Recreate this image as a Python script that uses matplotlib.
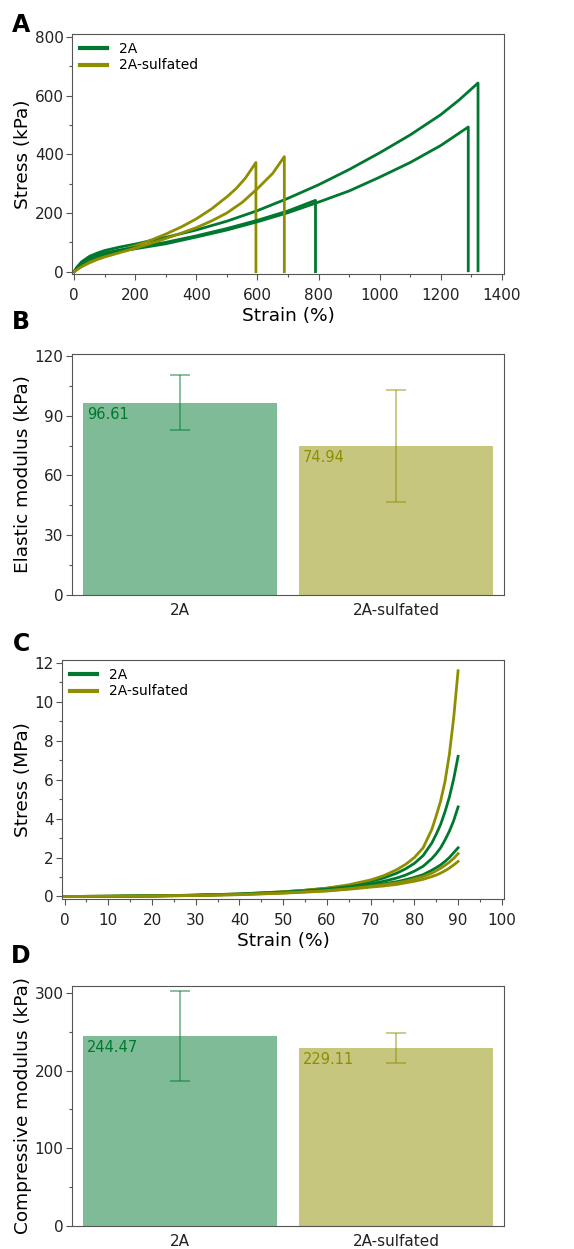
import matplotlib
matplotlib.use("Agg")
import matplotlib.pyplot as plt
from matplotlib.ticker import MultipleLocator

green = "#00782f"
olive = "#8e8e00"

# panel A: tensile stress-strain (kPa vs %)
a_2a_1_x = [0, 10, 25, 50, 75, 100, 150, 200, 300, 400, 500, 600, 700, 800, 900, 1000, 1100, 1200, 1260, 1322, 1322]
a_2a_1_y = [0, 16, 34, 52, 63, 72, 84, 94, 117, 142, 172, 208, 250, 296, 348, 405, 466, 535, 585, 643, 3]
a_2a_2_x = [0, 10, 25, 50, 75, 100, 150, 200, 300, 400, 500, 600, 700, 800, 900, 1000, 1100, 1200, 1290, 1290]
a_2a_2_y = [0, 13, 28, 42, 52, 60, 70, 78, 95, 118, 142, 170, 201, 237, 275, 322, 372, 430, 493, 3]
a_2a_3_x = [0, 10, 25, 50, 75, 100, 150, 200, 300, 400, 500, 600, 700, 790, 790]
a_2a_3_y = [0, 15, 31, 46, 56, 64, 74, 82, 100, 122, 147, 175, 207, 243, 0]
a_s_1_x = [0, 10, 25, 50, 75, 100, 150, 200, 250, 300, 350, 400, 450, 500, 530, 560, 595, 595]
a_s_1_y = [0, 8, 19, 33, 45, 55, 72, 88, 107, 128, 152, 180, 214, 255, 283, 318, 372, 0]
a_s_2_x = [0, 10, 25, 50, 75, 100, 150, 200, 250, 300, 350, 400, 450, 500, 550, 600, 650, 688, 688]
a_s_2_y = [0, 7, 17, 30, 41, 50, 65, 80, 96, 113, 131, 150, 173, 200, 236, 283, 335, 392, 0]

# panel B: elastic modulus
groups = ["2A", "2A-sulfated"]
elastic = [96.61, 74.94]
elastic_err = [13.7, 28.2]

# panel C: compression stress-strain (MPa vs %)
c_x = [0, 10, 20, 30, 40, 50, 55, 60, 65, 70, 73, 76, 78, 80, 82, 84, 85, 86, 87, 88, 89, 90]
c_2a_1 = [0, 0.01, 0.03, 0.07, 0.13, 0.24, 0.32, 0.42, 0.56, 0.78, 0.95, 1.2, 1.42, 1.7, 2.1, 2.75, 3.2, 3.7, 4.35, 5.1, 6.05, 7.2]
c_2a_2 = [0, 0.01, 0.03, 0.06, 0.12, 0.22, 0.29, 0.38, 0.5, 0.66, 0.78, 0.95, 1.1, 1.3, 1.55, 1.95, 2.2, 2.5, 2.9, 3.35, 3.9, 4.6]
c_2a_3 = [0, 0.01, 0.03, 0.06, 0.11, 0.2, 0.26, 0.34, 0.44, 0.57, 0.65, 0.76, 0.86, 0.98, 1.12, 1.35, 1.48, 1.62, 1.8, 2.0, 2.25, 2.5]
c_s_1 = [0, 0.01, 0.03, 0.07, 0.13, 0.24, 0.32, 0.43, 0.6, 0.85, 1.07, 1.38, 1.65, 2.0, 2.5, 3.45, 4.15, 4.9, 5.9, 7.3, 9.2, 11.6]
c_s_2 = [0, 0.01, 0.02, 0.05, 0.1, 0.18, 0.24, 0.3, 0.4, 0.52, 0.6, 0.7, 0.78, 0.9, 1.02, 1.2, 1.32, 1.45, 1.6, 1.76, 1.96, 2.2]
c_s_3 = [0, 0.01, 0.02, 0.05, 0.09, 0.17, 0.22, 0.28, 0.37, 0.48, 0.54, 0.62, 0.7, 0.78, 0.88, 1.02, 1.1, 1.2, 1.32, 1.46, 1.62, 1.8]

# panel D: compressive modulus
compressive = [244.47, 229.11]
compressive_err = [57.7, 19.5]

plt.rcParams["font.family"] = "DejaVu Sans"
plt.rcParams["axes.edgecolor"] = "#555555"
plt.rcParams["xtick.color"] = "#555555"
plt.rcParams["ytick.color"] = "#555555"
plt.rcParams["xtick.labelcolor"] = "#222222"
plt.rcParams["ytick.labelcolor"] = "#222222"
plt.rcParams["font.size"] = 11

fig = plt.figure(figsize=(5.74, 12.49), dpi=100)
W, H = 574, 1249
label_size = 13.3


def add_ax(l, t, r, b):
    return fig.add_axes([l / W, 1 - b / H, (r - l) / W, (b - t) / H])


def style(ax):
    ax.tick_params(which="major", length=4, width=0.8, labelsize=11, pad=2)
    ax.tick_params(which="minor", length=2, width=0.8)
    ax.tick_params(top=False, right=False)


def legend(ax):
    leg = ax.legend(loc="upper left", frameon=False, fontsize=10, handlelength=2.0,
                    borderaxespad=0.15, labelspacing=0.2, handletextpad=0.8)
    for ln in leg.get_lines():
        ln.set_linewidth(3)


lw = 2

# A
ax = add_ax(72, 34, 504, 274)
ax.plot(a_2a_1_x, a_2a_1_y, color=green, lw=lw, label="2A")
ax.plot(a_s_1_x, a_s_1_y, color=olive, lw=lw, label="2A-sulfated")
ax.plot(a_2a_2_x, a_2a_2_y, color=green, lw=lw)
ax.plot(a_2a_3_x, a_2a_3_y, color=green, lw=lw)
ax.plot(a_s_2_x, a_s_2_y, color=olive, lw=lw)
ax.set_xlim(-7, 1407)
ax.set_ylim(-8, 810)
ax.xaxis.set_major_locator(MultipleLocator(200))
ax.xaxis.set_minor_locator(MultipleLocator(100))
ax.yaxis.set_major_locator(MultipleLocator(200))
ax.yaxis.set_minor_locator(MultipleLocator(100))
ax.set_xlabel("Strain (%)", fontsize=label_size, labelpad=3)
ax.set_ylabel("Stress (kPa)", fontsize=label_size, labelpad=2)
legend(ax)
style(ax)
ax.tick_params(axis="x", which="major", pad=6)

# B
ax = add_ax(72, 354, 504, 595)
ax.bar([0, 1], elastic, width=0.9, color=[green, olive], alpha=0.5)
for i, (v, e, c) in enumerate(zip(elastic, elastic_err, [green, olive])):
    ax.errorbar(i, v, yerr=e, color=c, alpha=0.55, lw=1.2, capsize=7, capthick=1.2)
    ax.annotate(f"{v:.2f}", (i - 0.45, v), xytext=(3, -3), textcoords="offset points",
                color=c, fontsize=10.5, va="top", ha="left")
ax.set_xlim(-0.5, 1.5)
ax.set_ylim(0, 121)
ax.set_xticks([0, 1])
ax.set_xticklabels(groups)
ax.yaxis.set_major_locator(MultipleLocator(30))
ax.yaxis.set_minor_locator(MultipleLocator(15))
ax.set_ylabel("Elastic modulus (kPa)", fontsize=label_size, labelpad=2)
style(ax)
ax.tick_params(axis="x", which="both", length=0, pad=6)

# C
ax = add_ax(62, 660, 504, 899)
ax.plot(c_x, c_2a_1, color=green, lw=lw, label="2A")
ax.plot(c_x, c_s_1, color=olive, lw=lw, label="2A-sulfated")
ax.plot(c_x, c_2a_2, color=green, lw=lw)
ax.plot(c_x, c_2a_3, color=green, lw=lw)
ax.plot(c_x, c_s_2, color=olive, lw=lw)
ax.plot(c_x, c_s_3, color=olive, lw=lw)
ax.set_xlim(-0.6, 100.5)
ax.set_ylim(-0.13, 12.15)
ax.xaxis.set_major_locator(MultipleLocator(10))
ax.xaxis.set_minor_locator(MultipleLocator(5))
ax.yaxis.set_major_locator(MultipleLocator(2))
ax.yaxis.set_minor_locator(MultipleLocator(1))
ax.set_xlabel("Strain (%)", fontsize=label_size, labelpad=3)
ax.set_ylabel("Stress (MPa)", fontsize=label_size, labelpad=2)
legend(ax)
style(ax)
ax.tick_params(axis="x", which="major", pad=6)

# D
ax = add_ax(72, 986, 504, 1226)
ax.bar([0, 1], compressive, width=0.9, color=[green, olive], alpha=0.5)
for i, (v, e, c) in enumerate(zip(compressive, compressive_err, [green, olive])):
    ax.errorbar(i, v, yerr=e, color=c, alpha=0.55, lw=1.2, capsize=7, capthick=1.2)
    ax.annotate(f"{v:.2f}", (i - 0.45, v), xytext=(3, -3), textcoords="offset points",
                color=c, fontsize=10.5, va="top", ha="left")
ax.set_xlim(-0.5, 1.5)
ax.set_ylim(0, 309)
ax.set_xticks([0, 1])
ax.set_xticklabels(groups)
ax.yaxis.set_major_locator(MultipleLocator(100))
ax.yaxis.set_minor_locator(MultipleLocator(50))
ax.set_ylabel("Compressive modulus (kPa)", fontsize=label_size, labelpad=2)
style(ax)
ax.tick_params(axis="x", which="both", length=0, pad=6)

# panel letters
for letter, y in [("A", 25), ("B", 322), ("C", 644), ("D", 956)]:
    fig.text(21 / W, 1 - y / H, letter, fontsize=17, fontweight="bold",
             ha="center", va="center")

fig.savefig("out.png", dpi=100)
